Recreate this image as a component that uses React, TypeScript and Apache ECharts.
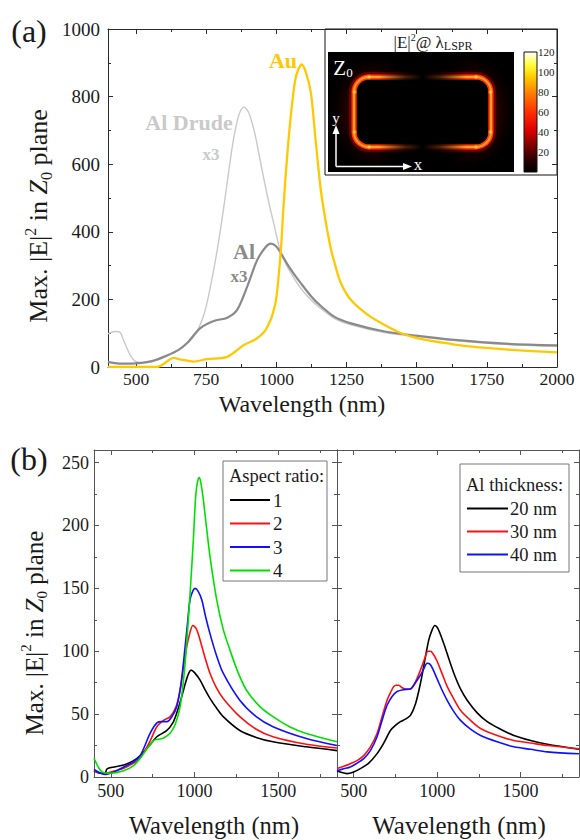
import { useEffect, useRef } from "react";
import * as echarts from "echarts";

const SERIF = "'Liberation Serif', 'Times New Roman', Times, serif";
const INK = "#1a1a1a";

// ---------------- Panel (a) data ----------------
const auWl = [400, 500, 574, 600, 620, 633, 660, 705, 753, 825, 884, 926, 955, 968, 985, 1000, 1016, 1027, 1040, 1055, 1070, 1090, 1105, 1123, 1140, 1159, 1180, 1195, 1210, 1230, 1266, 1326, 1386, 1445, 1505, 1624, 1696, 1815, 2000];
const auVal = [0, 0, 0, 10, 22, 27, 22, 16, 23, 30, 65, 82, 102, 119, 152, 205, 347, 495, 640, 770, 860, 895, 872, 811, 670, 520, 410, 347, 300, 248, 198, 154, 124, 100, 85, 68, 60, 52, 43];

const drudeWl = [400, 425, 442, 455, 479, 500, 538, 575, 610, 660, 705, 740, 765, 790, 813, 832, 849, 866, 884, 900, 920, 938, 956, 975, 992, 1015, 1040, 1087, 1130, 1160, 1206, 1266, 1386, 1505, 1636, 1815, 2000];
const drudeVal = [98, 105, 103, 80, 36, 16, 13, 20, 32, 55, 90, 150, 238, 350, 475, 590, 682, 745, 769, 755, 702, 630, 554, 480, 420, 340, 295, 233, 193, 172, 144, 125, 102, 90, 78, 67, 61];

const alWl = [400, 440, 480, 520, 560, 610, 650, 681, 729, 777, 825, 860, 896, 932, 962, 980, 998, 1016, 1040, 1063, 1087, 1123, 1147, 1206, 1266, 1386, 1505, 1624, 1815, 2000];
const alVal = [15, 10, 10, 12, 18, 34, 50, 70, 115, 136, 146, 169, 238, 317, 355, 365, 358, 337, 303, 275, 248, 210, 189, 149, 129, 105, 92, 81, 69, 64];

const aXLabels = [500, 750, 1000, 1250, 1500, 1750, 2000];
const aXMinor = [625, 875, 1125, 1375, 1625, 1875];
const aYLabels = [0, 200, 400, 600, 800, 1000];
const aYMinor = [100, 300, 500, 700, 900];
const cbLabels = [20, 40, 60, 80, 100, 120];

// ---------------- Panel (b) data ----------------
const arNames = ["1", "2", "3", "4"];
const ar1Wl = [400, 440, 465, 478, 520, 577, 636, 676, 730, 775, 835, 870, 894, 915, 934, 958, 979, 1000, 1033, 1060, 1092, 1130, 1171, 1270, 1368, 1468, 1667, 1850];
const ar1Val = [5, 3, 3, 6.5, 8, 9.5, 13, 17, 25, 32, 37, 43, 51, 60, 69, 80, 85, 83, 77, 70, 62.5, 55, 48, 37, 31.5, 28, 24, 21];
const ar2Wl = [400, 440, 458, 500, 577, 636, 676, 736, 775, 815, 855, 890, 914, 935, 954, 975, 990, 1010, 1033, 1060, 1092, 1130, 1171, 1270, 1368, 1468, 1667, 1850];
const ar2Val = [5, 3, 2.7, 4, 7, 11, 15, 29, 40, 45, 48, 56, 69, 88, 104, 116, 120.5, 118, 109, 96, 82.5, 71, 62.5, 48, 38, 32, 26, 23];
const ar3Wl = [400, 440, 470, 520, 577, 636, 676, 736, 775, 805, 835, 865, 894, 920, 944, 960, 973, 990, 1003, 1020, 1043, 1065, 1092, 1130, 1171, 1270, 1368, 1468, 1667, 1850];
const ar3Val = [6, 3, 2, 4, 8, 12, 17, 35, 43, 44, 44, 48, 56, 75, 104, 125, 141, 148, 150, 148, 141, 128, 114, 97, 82.5, 61, 48, 40, 30.6, 25];
const ar4Wl = [400, 425, 449, 498, 577, 636, 676, 720, 756, 785, 815, 855, 885, 914, 940, 963, 980, 993, 1005, 1013, 1022, 1029, 1040, 1052, 1070, 1092, 1132, 1170, 1211, 1260, 1310, 1390, 1468, 1567, 1667, 1850];
const ar4Val = [15, 8, 4, 3, 5, 9, 15, 23, 29, 30, 31, 35, 42, 56, 85, 125, 160, 189, 220, 231, 237, 238, 232, 221, 200, 175.5, 141, 118, 101, 83, 69, 56, 48, 40, 34.6, 28];

const thNames = ["20 nm", "30 nm", "40 nm"];
const th20Wl = [400, 430, 460, 500, 540, 590, 640, 680, 720, 750, 780, 810, 840, 870, 900, 925, 950, 970, 986, 1005, 1040, 1070, 1100, 1140, 1180, 1240, 1300, 1380, 1460, 1560, 1660, 1850];
const th20Val = [5, 3.5, 2.7, 4, 6.7, 11, 18.6, 27, 37, 41, 44, 46, 49, 58, 74.5, 92, 109, 117, 120.5, 118, 106, 94, 82.5, 70, 61, 51, 44, 38, 33, 29, 26, 22];
const th30Wl = [400, 440, 480, 520, 560, 600, 640, 670, 700, 720, 740, 755, 770, 790, 810, 830, 850, 875, 900, 925, 945, 960, 980, 1000, 1030, 1060, 1100, 1140, 1200, 1260, 1360, 1460, 1560, 1660, 1850];
const th30Val = [6.7, 8.5, 10.6, 13, 17, 24, 34.6, 48, 61, 67, 72, 73, 73, 71, 70, 70, 71, 77, 85, 94, 100, 100, 97, 92, 82, 72, 62, 53, 45, 38.6, 33, 29, 27, 25, 22.5];
const th40Wl = [400, 440, 480, 520, 560, 600, 640, 670, 700, 730, 760, 800, 840, 870, 900, 920, 940, 955, 970, 1000, 1030, 1060, 1100, 1140, 1200, 1260, 1360, 1460, 1560, 1660, 1850];
const th40Val = [5, 6.5, 8, 11, 14.6, 21, 32, 45, 57, 64, 68, 69.5, 70, 75, 81, 86, 90.5, 90, 87, 78, 69, 61, 52, 45, 38, 33, 28, 24, 22, 20, 18.5];

const bXLabels = [500, 1000, 1500];
const bXMinor = [750, 1250, 1750];
const bYLabels = [0, 50, 100, 150, 200, 250];
const bYMinor = [25, 75, 125, 175, 225];

// ---------------- styling constants ----------------
const AU_COLOR = "#FFC800";
const DRUDE_COLOR = "#C9C9C9";
const AL_COLOR = "#8A8A8A";
const B_COLORS = ["#000000", "#ff1010", "#1010ff", "#00e000"];

const zip = (xs: number[], ys: number[]) => xs.map((x, i) => [x, ys[i]]);
const plain = (v: number) => String(v);

function xAxisSet(gridIndex: number, min: number, max: number, majors: number[], labels: number[], minors: number[], color: string, fontSize: number, margin: number) {
  const base: any = { type: "value", gridIndex, min, max, splitLine: { show: false }, minorSplitLine: { show: false }, silent: true };
  const line = { show: true, onZero: false, lineStyle: { color, width: 1 } };
  const noLine = { show: false, onZero: false };
  const maj = { show: true, inside: true, length: 5, customValues: majors, lineStyle: { color, width: 1 } };
  const mnr = { show: true, inside: true, length: 3, customValues: minors, lineStyle: { color, width: 1 } };
  return [
    { ...base, position: "bottom", axisLine: line, axisTick: maj, axisLabel: { show: true, customValues: labels, formatter: plain, margin, color: INK, fontFamily: SERIF, fontSize, lineHeight: 16 } },
    { ...base, position: "bottom", axisLine: noLine, axisTick: mnr, axisLabel: { show: false } },
    { ...base, position: "top", axisLine: line, axisTick: maj, axisLabel: { show: false } },
    { ...base, position: "top", axisLine: noLine, axisTick: mnr, axisLabel: { show: false } },
  ];
}

function yAxisSet(gridIndex: number, min: number, max: number, majors: number[], labels: number[] | null, minors: number[], color: string, fontSize: number, margin: number) {
  const base: any = { type: "value", gridIndex, min, max, splitLine: { show: false }, minorSplitLine: { show: false }, silent: true };
  const line = { show: true, onZero: false, lineStyle: { color, width: 1 } };
  const noLine = { show: false, onZero: false };
  const maj = { show: true, inside: true, length: 5, customValues: majors, lineStyle: { color, width: 1 } };
  const mnr = { show: true, inside: true, length: 3, customValues: minors, lineStyle: { color, width: 1 } };
  return [
    { ...base, position: "left", axisLine: line, axisTick: maj, axisLabel: labels ? { show: true, customValues: labels, formatter: plain, margin, color: INK, fontFamily: SERIF, fontSize } : { show: false } },
    { ...base, position: "left", axisLine: noLine, axisTick: mnr, axisLabel: { show: false } },
    { ...base, position: "right", axisLine: line, axisTick: maj, axisLabel: { show: false } },
    { ...base, position: "right", axisLine: noLine, axisTick: mnr, axisLabel: { show: false } },
  ];
}

function lineSeries(name: string, wl: number[], val: number[], color: string, width: number, xi: number, yi: number) {
  return {
    type: "line", name, data: zip(wl, val), xAxisIndex: xi, yAxisIndex: yi,
    showSymbol: false, symbol: "none", smooth: 0.3,
    lineStyle: { color, width, join: "round" }, itemStyle: { color }, silent: true, z: 3,
  };
}

function txt(x: number, y: number, text: string, fontSize: number, extra: any = {}, el: any = {}) {
  return {
    type: "text", x, y, silent: true, ...el,
    style: { text, fontFamily: SERIF, fontSize, fill: INK, align: "center", verticalAlign: "middle", ...extra },
  };
}

function yNameRich(size: number) {
  const main = { fontFamily: SERIF, fontSize: size, fill: INK, color: INK, lineHeight: size + 6 };
  const small = { fontFamily: SERIF, fontSize: Math.round(size * 0.6), fill: INK, color: INK, lineHeight: Math.round(size * 0.6) + 2 };
  return {
    text: "{m|Max. |E|}{sup|2}{m| in }{it|Z}{sub|0}{m| plane}",
    rich: {
      m: main,
      it: { ...main, fontStyle: "italic" },
      sup: { ...small, verticalAlign: "top" },
      sub: { ...small, verticalAlign: "bottom" },
    },
  };
}

function buildOption() {
  const frameA = "#2a2a2a";
  const frameB = "#555555";

  const xAxes = [
    ...xAxisSet(0, 400, 2000, aXLabels, aXLabels, aXMinor, frameA, 17.5, 4),
    ...xAxisSet(1, 400, 1850, [500, 1000, 1500], bXLabels, bXMinor, frameB, 18, 6),
    ...xAxisSet(2, 400, 1850, [500, 1000, 1500], bXLabels, bXMinor, frameB, 18, 6),
  ];
  const yAxes = [
    ...yAxisSet(0, 0, 1000, aYLabels, aYLabels, aYMinor, frameA, 19, 8),
    ...yAxisSet(1, 0, 260, bYLabels, bYLabels, bYMinor, frameB, 18, 5),
    ...yAxisSet(2, 0, 260, bYLabels, null, bYMinor, frameB, 18, 5),
  ];

  const series = [
    lineSeries("Al Drude", drudeWl, drudeVal, DRUDE_COLOR, 1.4, 0, 0),
    lineSeries("Al", alWl, alVal, AL_COLOR, 2.2, 0, 0),
    lineSeries("Au", auWl, auVal, AU_COLOR, 2.3, 0, 0),
    lineSeries(arNames[0], ar1Wl, ar1Val, B_COLORS[0], 1.6, 4, 4),
    lineSeries(arNames[1], ar2Wl, ar2Val, B_COLORS[1], 1.6, 4, 4),
    lineSeries(arNames[2], ar3Wl, ar3Val, B_COLORS[2], 1.6, 4, 4),
    lineSeries(arNames[3], ar4Wl, ar4Val, B_COLORS[3], 1.6, 4, 4),
    lineSeries(thNames[0], th20Wl, th20Val, B_COLORS[0], 1.6, 8, 8),
    lineSeries(thNames[1], th30Wl, th30Val, B_COLORS[1], 1.6, 8, 8),
    lineSeries(thNames[2], th40Wl, th40Val, B_COLORS[2], 1.6, 8, 8),
  ];

  // ---------- inset (field map + colorbar) ----------
  const radial = (stops: [number, string][]) => ({
    type: "radial", x: 0.5, y: 0.5, r: 0.5, global: false,
    colorStops: stops.map(([offset, color]) => ({ offset, color })),
  });
  const gapFill = {
    type: "linear", x: 0, y: 0, x2: 1, y2: 0, global: false,
    colorStops: [
      { offset: 0, color: "rgba(0,0,0,0)" }, { offset: 0.3, color: "rgba(0,0,0,0.75)" },
      { offset: 0.5, color: "rgba(0,0,0,1)" }, { offset: 0.7, color: "rgba(0,0,0,0.75)" }, { offset: 1, color: "rgba(0,0,0,0)" },
    ],
  };
  const ringShape = { x: 354, y: 77, width: 137, height: 70, r: 15 };
  const hot = radial([[0, "rgba(255,235,120,0.95)"], [1, "rgba(255,150,0,0)"]]);
  const inset: any[] = [
    { type: "rect", shape: { x: 325, y: 29, width: 232, height: 146 }, style: { fill: "#fff", stroke: "#111", lineWidth: 1 } },
    { type: "rect", shape: { x: 328, y: 52, width: 186, height: 120 }, style: { fill: "#000" } },
    { type: "ellipse", shape: { cx: 374, cy: 112, rx: 45, ry: 58 }, style: { fill: radial([[0, "rgba(170,0,0,0.6)"], [0.55, "rgba(110,0,0,0.4)"], [1, "rgba(40,0,0,0)"]]) } },
    { type: "ellipse", shape: { cx: 471, cy: 112, rx: 45, ry: 58 }, style: { fill: radial([[0, "rgba(170,0,0,0.6)"], [0.55, "rgba(110,0,0,0.4)"], [1, "rgba(40,0,0,0)"]]) } },
    { type: "rect", shape: ringShape, style: { fill: "none", lineWidth: 10, stroke: "rgba(200,0,0,0.45)" } },
    { type: "rect", shape: ringShape, style: { fill: "none", lineWidth: 5, stroke: "#ff4000" } },
    { type: "rect", shape: ringShape, style: { fill: "none", lineWidth: 2, stroke: "#ffa030" } },
    { type: "rect", shape: { x: 357, y: 80, width: 131, height: 64, r: 12 }, style: { fill: "#000" } },
    { type: "rect", shape: { x: 378, y: 65, width: 89, height: 15 }, style: { fill: gapFill } },
    { type: "rect", shape: { x: 378, y: 144, width: 89, height: 16 }, style: { fill: gapFill } },
    ...[[369, 77], [476, 77], [369, 147], [476, 147], [354.5, 92], [490.5, 92], [354.5, 132], [490.5, 132]].map(([cx, cy]) => ({
      type: "circle", shape: { cx, cy, r: 3 }, style: { fill: hot },
    })),
    { type: "rect", shape: { x: 524, y: 52, width: 13, height: 120 }, style: { stroke: "#111", lineWidth: 1, fill: { type: "linear", x: 0, y: 1, x2: 0, y2: 0, colorStops: [
      { offset: 0, color: "#000000" }, { offset: 0.1, color: "#2a0000" }, { offset: 0.2, color: "#700000" }, { offset: 0.35, color: "#e00000" },
      { offset: 0.5, color: "#ff3000" }, { offset: 0.65, color: "#ff7a00" }, { offset: 0.8, color: "#ffd000" }, { offset: 0.9, color: "#ffff40" }, { offset: 1, color: "#ffffff" } ] } } },
    ...cbLabels.map((v) => txt(538, 172 - v, String(v), 11, { align: "left" })),
    { type: "line", shape: { x1: 336, y1: 166.5, x2: 336, y2: 132 }, style: { stroke: "#fff", lineWidth: 1.5 } },
    { type: "polygon", shape: { points: [[336, 125], [332.5, 134], [339.5, 134]] }, style: { fill: "#fff" } },
    { type: "line", shape: { x1: 336, y1: 166.5, x2: 405, y2: 166.5 }, style: { stroke: "#fff", lineWidth: 1.5 } },
    { type: "polygon", shape: { points: [[412, 166.5], [403, 163], [403, 170]] }, style: { fill: "#fff" } },
    txt(336, 118, "y", 15, { fill: "#fff" }),
    txt(418, 164, "x", 17, { fill: "#fff" }),
    txt(343, 68, "{z|Z}{s|0}", 19, {
      fill: "#fff",
      rich: {
        z: { fontFamily: SERIF, fontSize: 21, fill: "#fff", lineHeight: 22 },
        s: { fontFamily: SERIF, fontSize: 13, fill: "#fff", lineHeight: 12, verticalAlign: "bottom" },
      },
    }),
    txt(433, 42, "{t||E|}{sup|2}{t|@ λ}{sub|LSPR}", 16, {
      rich: {
        t: { fontFamily: SERIF, fontSize: 17, fill: INK, lineHeight: 20 },
        sup: { fontFamily: SERIF, fontSize: 10, fill: INK, lineHeight: 10, verticalAlign: "top" },
        sub: { fontFamily: SERIF, fontSize: 12, fill: INK, lineHeight: 11, verticalAlign: "bottom" },
      },
    }),
  ].map((e, i) => ({ ...e, silent: true, z: -1, z2: i }));

  // ---------- legends of panel (b) ----------
  const legendA: any[] = [
    { type: "rect", shape: { x: 223, y: 461, width: 104, height: 120 }, style: { fill: "#fff", stroke: "#777", lineWidth: 1 } },
    txt(229, 476, "Aspect ratio:", 18.5, { align: "left" }),
    ...arNames.flatMap((n, i) => {
      const y = 500 + i * 23.5;
      return [
        { type: "line", shape: { x1: 230, y1: y, x2: 270, y2: y }, style: { stroke: B_COLORS[i], lineWidth: 1.8 } },
        txt(273, y, n, 19, { align: "left" }),
      ];
    }),
  ];
  const legendB: any[] = [
    { type: "rect", shape: { x: 460, y: 464, width: 109, height: 108 }, style: { fill: "#fff", stroke: "#777", lineWidth: 1 } },
    txt(466, 485, "Al thickness:", 18.5, { align: "left" }),
    ...thNames.flatMap((n, i) => {
      const y = 508.5 + i * 23;
      return [
        { type: "line", shape: { x1: 467, y1: y, x2: 508, y2: y }, style: { stroke: B_COLORS[i], lineWidth: 1.8 } },
        txt(510, y, n, 18.5, { align: "left" }),
      ];
    }),
  ];

  const labels: any[] = [
    txt(29, 31, "(a)", 32),
    txt(29, 459, "(b)", 32),
    { ...txt(38, 216, "", 26, yNameRich(26)), rotation: Math.PI / 2 },
    { ...txt(34, 633, "", 25, yNameRich(25)), rotation: Math.PI / 2 },
    txt(302, 404, "Wavelength (nm)", 24, { lineHeight: 22 }),
    txt(214, 825, "Wavelength (nm)", 24.5, { lineHeight: 22 }),
    txt(459, 825, "Wavelength (nm)", 25, { lineHeight: 22 }),
    txt(283, 60, "Au", 22, { fill: AU_COLOR, fontWeight: "bold" }),
    txt(189, 122, "Al Drude", 22, { fill: DRUDE_COLOR, fontWeight: "bold" }),
    txt(211, 154, "x3", 17, { fill: DRUDE_COLOR, fontWeight: "bold" }),
    txt(244, 251, "Al", 22, { fill: AL_COLOR, fontWeight: "bold" }),
    txt(239, 276, "x3", 17, { fill: AL_COLOR, fontWeight: "bold" }),
  ];

  return {
    animation: false,
    backgroundColor: "#ffffff",
    textStyle: { fontFamily: SERIF },
    grid: [
      { left: 108, top: 29, width: 449, height: 338, outerBoundsMode: "none" },
      { left: 94, top: 450, width: 243, height: 327, outerBoundsMode: "none" },
      { left: 337, top: 450, width: 242, height: 327, outerBoundsMode: "none" },
    ],
    xAxis: xAxes,
    yAxis: yAxes,
    series,
    graphic: [...inset, ...legendA.map((e) => ({ ...e, silent: true, z: 5 })), ...legendB.map((e) => ({ ...e, silent: true, z: 5 })), ...labels.map((e) => ({ ...e, z: 6 }))],
  };
}

export default function App() {
  const ref = useRef<HTMLDivElement>(null);
  useEffect(() => {
    if (!ref.current) return;
    const chart = echarts.init(ref.current, null, { renderer: "svg" });
    chart.setOption(buildOption() as any);
    return () => chart.dispose();
  }, []);
  return <div ref={ref} style={{ position: "absolute", left: 0, top: 0, width: 580, height: 840, background: "#fff" }} />;
}
